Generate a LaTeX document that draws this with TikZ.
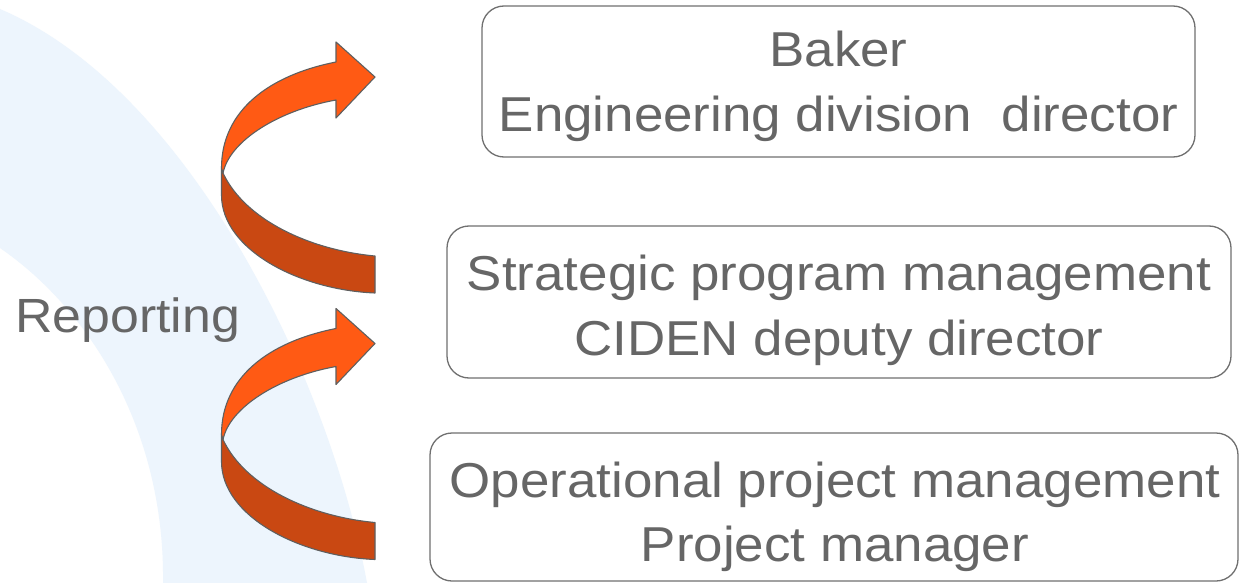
\documentclass[tikz,border=0pt]{standalone}
\usepackage{fontspec}
\setmainfont{Liberation Sans}[FakeStretch=1.08]
\definecolor{bandblue}{RGB}{237,245,253}
\definecolor{txtgrey}{RGB}{102,102,102}
\definecolor{boxgrey}{RGB}{112,112,112}
\definecolor{ribbonlight}{RGB}{255,90,20}
\definecolor{ribbondark}{RGB}{201,72,18}
\definecolor{ribbonedge}{RGB}{95,95,95}
\begin{document}
\begin{tikzpicture}[x=1pt,y=-1pt,
  box/.style={draw=boxgrey, line width=1.3pt, rounded corners=22pt,
    inner sep=0pt, rectangle},
  lbl/.style={text=txtgrey, inner sep=0pt, anchor=base,
    font=\fontsize{49}{65}\selectfont},
  side/.style={text=txtgrey, inner sep=0pt, anchor=base west,
    font=\fontsize{48}{60}\selectfont},
  ribbonline/.style={draw=ribbonedge, line width=1.1pt, line join=round},
  ribbon/.pic={
    % back face of the turn
    \path[ribbonline, fill=ribbondark]
      (223,173) .. controls (245,220) and (310,250) .. (375,256)
      -- (375,293) .. controls (300,290) and (221.5,250) .. (221.5,195)
      -- (221.5,168) -- cycle;
    % front face ending in the arrow head
    \path[ribbonline, fill=ribbonlight]
      (223,173) -- (221.5,168) .. controls (221.5,110) and (270,75) .. (336,62)
      -- (336,42) -- (375,77) -- (336,118) -- (336,100)
      .. controls (280,110) and (230,140) .. (223,173) -- cycle;
  }]
\useasboundingbox (0,0) rectangle (1239,583);
\fill[white] (0,0) rectangle (1239,583);

% pale backdrop band
\fill[bandblue] (0,9) .. controls (190,90) and (330,380) .. (367,583)
  -- (163,583) .. controls (165,430) and (90,310) .. (0,248) -- cycle;

% reporting ribbons
\pic at (0,0) {ribbon};
\pic at (0,266.5) {ribbon};

\node[side] (rep) at (15,332) {Reporting};

% hierarchy boxes
\node[box, minimum width=713pt, minimum height=151pt] (dir) at (838.5,81.5) {};
\node[box, minimum width=784pt, minimum height=152pt] (dep) at (839,302) {};
\node[box, minimum width=808pt, minimum height=148pt] (pm) at (834,507) {};

\node[lbl] (dir1) at (838.5,66.7) {Baker};
\node[lbl] (dir2) at (838.5,131.7) {Engineering division\ \ director};
\node[lbl] (dep1) at (839,290) {Strategic program management};
\node[lbl] (dep2) at (839,355) {CIDEN deputy director};
\node[lbl] (pm1) at (835,497) {Operational project management};
\node[lbl] (pm2) at (835,561) {Project manager};
\end{tikzpicture}
\end{document}
